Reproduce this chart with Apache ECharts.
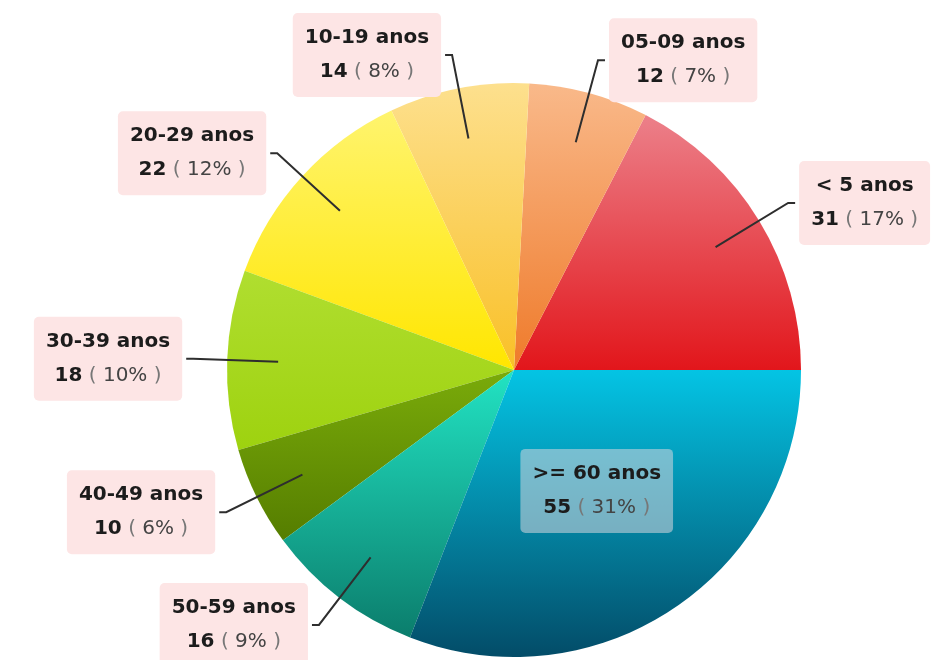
<!DOCTYPE html>
<html>
<head>
<meta charset="utf-8">
<title>Faixa etária</title>
<script src="https://cdn.jsdelivr.net/npm/echarts@6/dist/echarts.min.js"></script>
<style>
	html, body { margin:0; padding:0; background:#fff; }
	.ca1 { width:931px; height:660px; }
</style>
</head>
<body>
<div class="ca1"></div>
<script>
var faixas = ['< 5 anos', '05-09 anos', '10-19 anos', '20-29 anos', '30-39 anos', '40-49 anos', '50-59 anos', '>= 60 anos']
var casos = [31, 12, 14, 22, 18, 10, 16, 55]

// topo / base do degradê de cada fatia
var cores = [
	['#ec808a', '#e2161b'],
	['#f9b98a', '#ef7a2a'],
	['#fde08e', '#f9c027'],
	['#fff46e', '#ffe600'],
	['#b0de30', '#9ed20f'],
	['#7aab0a', '#557d00'],
	['#22e3c3', '#0b7d6c'],
	['#04c4e4', '#034c68']
]
var dentro = 7 // rótulo que fica dentro da pizza

var fonte = 'DejaVu Sans'
var rich = {
	n: {fontFamily: fonte, fontWeight: 'bold', fontSize: 20, color: '#1c1c1c', lineHeight: 34, align: 'center'},
	v: {fontFamily: fonte, fontWeight: 'bold', fontSize: 20, color: '#1c1c1c', lineHeight: 34, align: 'center'},
	p: {fontFamily: fonte, fontSize: 20, color: '#777', lineHeight: 34, align: 'center'},
	d: {fontFamily: fonte, fontSize: 20, color: '#444', lineHeight: 34, align: 'center'}
}
var fmt = '{n|{b}}\n{v|{c}}{p| ( }{d|{d}%}{p| )}'

function renderCa1() {
	var myChart = echarts.init(document.querySelector('.ca1'))
	var fatias = [], rotulos = []
	for (var i = 0; i < faixas.length; i++) {
		var item = {
			name: faixas[i],
			value: casos[i],
			itemStyle: {
				color: new echarts.graphic.LinearGradient(0, 0, 0, 1, [
					{offset: 0, color: cores[i][0]},
					{offset: 1, color: cores[i][1]}
				])
			}
		}
		var r = {name: faixas[i], value: casos[i]}
		if (i == dentro) {
			item.label = {
				show: true,
				position: 'inside',
				formatter: fmt,
				rich: rich,
				backgroundColor: 'rgba(215,215,222,0.55)',
				borderRadius: 5,
				padding: [8, 12],
				textBorderWidth: 0
			}
			r.label = {show: false}
			r.labelLine = {show: false}
		}
		fatias.push(item)
		rotulos.push(r)
	}
	var o = {
		animation: false,
		series: [
			{
				type: 'pie',
				z: 2,
				center: [514, 370],
				radius: 287,
				startAngle: 0,
				clockwise: false,
				percentPrecision: 0,
				silent: true,
				itemStyle: {borderWidth: 0},
				label: {show: false},
				labelLine: {show: false},
				data: fatias
			},
			{
				// pizza invisível só para posicionar linhas e caixas
				type: 'pie',
				z: 5,
				center: [514, 370],
				radius: 236,
				startAngle: 0,
				clockwise: false,
				percentPrecision: 0,
				silent: true,
				avoidLabelOverlap: false,
				itemStyle: {color: 'rgba(0,0,0,0)', borderWidth: 0},
				label: {
					show: true,
					position: 'outside',
					formatter: fmt,
					rich: rich,
					backgroundColor: '#fde5e5',
					borderRadius: 5,
					padding: [8, 12],
					distanceToLabelLine: 4
				},
				labelLine: {
					show: true,
					length: 85,
					length2: 7,
					smooth: false,
					lineStyle: {color: '#2e2e2e', width: 2}
				},
				data: rotulos
			}
		]
	}
	myChart.setOption(o)
}

renderCa1()
</script>
</body>
</html>
